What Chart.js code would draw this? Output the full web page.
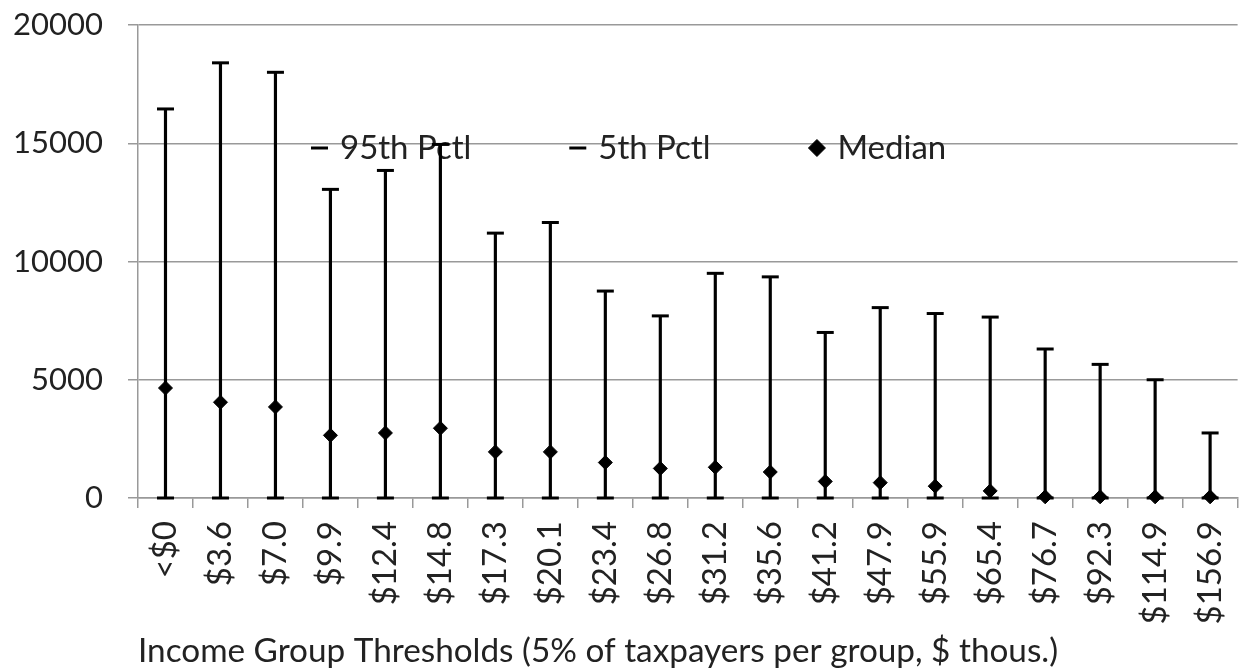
<!doctype html>
<html>

<head>
    <title>Income groups</title>
    <script src="https://cdn.jsdelivr.net/npm/chart.js@4.4.1/dist/chart.umd.min.js"></script>
    <style>
        body {
            margin: 0;
            overflow: hidden;
            background: #ffffff;
        }

        .canvas-container {
            width: 1263px;
            height: 671px;
        }
    </style>
</head>

<body>
    <div class='canvas-container'>
        <canvas id="canvas"></canvas>
    </div>
    <script>
        let grupos = ['<$0', '$3.6', '$7.0', '$9.9', '$12.4', '$14.8', '$17.3', '$20.1', '$23.4', '$26.8',
            '$31.2', '$35.6', '$41.2', '$47.9', '$55.9', '$65.4', '$76.7', '$92.3', '$114.9', '$156.9'];
        let pctl95 = [16450, 18400, 18000, 13050, 13850, 14950, 11200, 11650, 8750, 7700,
            9500, 9350, 7000, 8050, 7800, 7650, 6300, 5650, 5000, 2750];
        let pctl5 = [0, 0, 0, 0, 0, 0, 0, 0, 0, 0,
            0, 0, 0, 0, 0, 0, 0, 0, 0, 0];
        let mediana = [4650, 4050, 3850, 2650, 2750, 2950, 1950, 1950, 1500, 1250,
            1300, 1100, 700, 650, 500, 300, 50, 50, 50, 50];

        let rangos = pctl5.map((v, i) => [v, pctl95[i]]);

        const fuente = 33;
        Chart.defaults.font.family = 'Lato';
        Chart.defaults.font.size = fuente;
        Chart.defaults.color = '#222222';

        // excel style legend sitting inside the plot area
        const leyenda = {
            id: 'leyenda',
            beforeDatasetsDraw(chart, args, opts) {
                const c = chart.ctx;
                c.save();
                c.font = fuente + 'px Lato';
                c.textBaseline = 'middle';
                c.textAlign = 'left';
                let x = opts.x;
                chart.data.datasets.forEach(ds => {
                    if (ds.type !== 'line') return;
                    c.fillStyle = '#000000';
                    c.strokeStyle = '#000000';
                    c.lineWidth = ds.borderWidth;
                    Chart.helpers.drawPoint(c, {
                        pointStyle: ds.pointStyle,
                        radius: 8.5,
                        borderWidth: ds.borderWidth
                    }, x + 8.5, opts.y);
                    c.fillStyle = '#222222';
                    c.fillText(ds.label, x + 29, opts.y);
                    x += 29 + c.measureText(ds.label).width + opts.hueco;
                });
                c.restore();
            }
        };

        var ctx = document.getElementById('canvas').getContext('2d');
        window.myChart = new Chart(ctx, {
            type: 'bar',
            data: {
                labels: grupos,
                datasets: [{
                    label: 'rango',
                    data: rangos,
                    backgroundColor: '#000000',
                    barThickness: 2.5,
                    order: 4
                }, {
                    type: 'line',
                    label: '95th Pctl',
                    data: pctl95,
                    showLine: false,
                    pointStyle: 'line',
                    pointRadius: 8.5,
                    pointHoverRadius: 8.5,
                    borderWidth: 3,
                    borderColor: '#000000',
                    backgroundColor: '#000000',
                    clip: false,
                    order: 1
                }, {
                    type: 'line',
                    label: '5th Pctl',
                    data: pctl5,
                    showLine: false,
                    pointStyle: 'line',
                    pointRadius: 8.5,
                    pointHoverRadius: 8.5,
                    borderWidth: 3,
                    borderColor: '#000000',
                    backgroundColor: '#000000',
                    clip: false,
                    order: 2
                }, {
                    type: 'line',
                    label: 'Median',
                    data: mediana,
                    showLine: false,
                    pointStyle: 'rectRot',
                    pointRadius: 7,
                    pointHoverRadius: 7,
                    borderWidth: 1,
                    borderColor: '#000000',
                    backgroundColor: '#000000',
                    clip: false,
                    order: 0
                }]
            },
            options: {
                responsive: true,
                maintainAspectRatio: false,
                animation: false,
                layout: {
                    padding: 0
                },
                plugins: {
                    legend: { display: false },
                    tooltip: { enabled: false },
                    leyenda: { x: 311, y: 148, hueco: 98 }
                },
                scales: {
                    x: {
                        afterFit: s => { s.height = 173; },
                        grid: {
                            drawOnChartArea: false,
                            drawTicks: true,
                            tickLength: 10,
                            color: '#999999',
                            lineWidth: 1.5
                        },
                        border: { color: '#999999', width: 1.5 },
                        ticks: {
                            autoSkip: false,
                            minRotation: 90,
                            maxRotation: 90,
                            padding: 13,
                            color: '#222222'
                        },
                        title: {
                            display: true,
                            align: 'start',
                            text: 'Income Group Thresholds (5% of taxpayers per group, $ thous.)',
                            color: '#222222',
                            font: { size: 33.3 },
                            padding: { top: 0, bottom: 0 }
                        }
                    },
                    y: {
                        min: 0,
                        max: 20000,
                        afterFit: s => {
                            s.width = 138;
                            s.paddingTop = 25;
                        },
                        ticks: {
                            stepSize: 5000,
                            padding: 25,
                            color: '#222222',
                            font: { size: 31 },
                            callback: v => String(v)
                        },
                        grid: {
                            color: '#999999',
                            lineWidth: 1.5,
                            tickLength: 10
                        },
                        border: { color: '#999999', width: 1.5 }
                    }
                }
            },
            plugins: [leyenda]
        });
    </script>
</body>

</html>
